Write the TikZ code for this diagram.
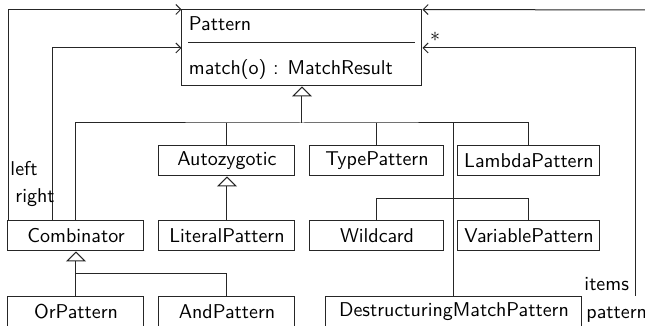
\documentclass[tikz,border=0pt]{standalone}
\usetikzlibrary{arrows.meta,calc}
\begin{document}
\begin{tikzpicture}[x=0.5pt,y=-0.5pt,font=\sffamily,
  line width=0.5pt, draw=black!85,
  box/.style={draw=black!85, minimum height=15pt, inner sep=0pt, fill=white},
  inh/.style={-{Triangle[open,length=5pt,width=10pt,fill=white]}},
  assoc/.style={-{Straight Barb[length=2.5pt,width=5pt]}},
  lbl/.style={inner sep=0pt, anchor=west}]
\useasboundingbox (0,0) rectangle (645,326);
\clip (0,0) rectangle (645,326);
% Pattern class
\node[box, minimum width=120pt, minimum height=38pt] (pat) at (302,48) {};
\node[lbl] (patname) at ($(pat.north west)+(7,14)$) {Pattern};
\node[lbl] (patop) at ($(pat.north west)+(7,60)$) {match(o) : MatchResult};
\draw ($(pat.north west)+(7,33)$) coordinate (s1) -- ($(pat.north east)+(-7,33)$) coordinate (s2);
% classes
\node[box, minimum width=68pt] (auto) at (227,161) {Autozygotic};
\node[box, minimum width=67pt] (type) at (377,161) {TypePattern};
\node[box, minimum width=71pt] (lam) at (529,161) {LambdaPattern};
\node[box, minimum width=68pt] (comb) at (76,236) {Combinator};
\node[box, minimum width=68pt] (lit) at (227,236) {LiteralPattern};
\node[box, minimum width=67pt] (wild) at (377,236) {Wildcard};
\node[box, minimum width=71pt] (var) at (529,236) {VariablePattern};
\node[box, minimum width=68pt] (or) at (76,312) {OrPattern};
\node[box, minimum width=68pt] (and) at (227,312) {AndPattern};
\node[box, minimum width=128pt] (dmp) at (454,312) {DestructuringMatchPattern};
% generalization to Pattern
\coordinate (j1) at (pat.south |- 0,123);
\draw[inh] (j1) -- (pat.south);
\draw (comb.north) |- (j1) -| (lam.north);
\draw (auto.north) -- (auto.north |- j1);
\draw (type.north) -- (type.north |- j1);
\draw (dmp.north) -- (dmp.north |- j1);
% Literal -> Autozygotic
\draw[inh] (lit.north) -- (auto.south);
% Or/And -> Combinator
\coordinate (j2) at (comb.south |- 0,274);
\draw[inh] (j2) -- (comb.south);
\draw (or.north) -- (j2) -| (and.north);
% Wildcard / VariablePattern
\coordinate (j3) at (wild.north |- 0,199);
\draw (wild.north) -- (j3) -| (var.north);
% associations
\draw[assoc] ($(comb.north west)+(1,0)$) |- (pat.north west);
\draw[assoc] ($(comb.north west)+(45,0)$) |- (pat.west);
\coordinate (r1) at (646,10);
\draw[assoc] (r1) -- (pat.north east);
\coordinate (r2) at (636,296);
\draw[assoc] (r2) |- (pat.east);
% labels
\node[lbl] (lleft) at (10,169) {left};
\node[lbl] (lright) at (15,198) {right};
\node[inner sep=0pt] (lstar) at (435,37) {$*$};
\node[lbl] (litems) at (584,284) {items};
\node[lbl] (lpattern) at (586,315) {pattern};
\end{tikzpicture}
\end{document}
